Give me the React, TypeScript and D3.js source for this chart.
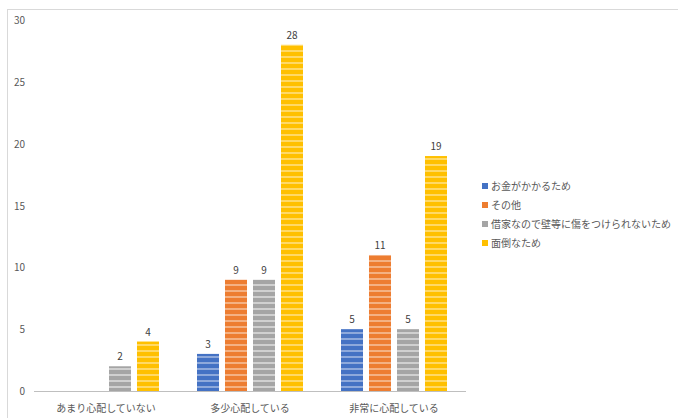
import React, { useEffect, useRef } from 'react';
import * as d3 from 'd3';

const CATEGORIES = ['あまり心配していない', '多少心配している', '非常に心配している'];
const SERIES = ['お金がかかるため', 'その他', '借家なので壁等に傷をつけられないため', '面倒なため'];
const COLORS = ['#4472C4', '#ED7D31', '#A5A5A5', '#FFC000'];
const LIGHT = ['#8EA9DB', '#F4B183', '#D0D0D0', '#FFD966'];
// values[series][category]; null = no bar
const VALUES: (number | null)[][] = [
  [null, 3, 5],
  [null, 9, 11],
  [2, 9, 5],
  [4, 28, 19],
];
const Y_TICKS = [0, 5, 10, 15, 20, 25, 30];

const W = 678;
const H = 418;
const FONT = '"Noto Sans CJK JP", "Noto Sans", sans-serif';

const App: React.FC = () => {
  const svgRef = useRef<SVGSVGElement>(null);

  useEffect(() => {
    if (!svgRef.current) return;
    const svg = d3.select(svgRef.current);
    svg.selectAll('*').remove();

    svg.append('rect').attr('width', W).attr('height', H).attr('fill', '#ffffff');
    svg
      .append('rect')
      .attr('x', 7.5)
      .attr('y', 9.5)
      .attr('width', W)
      .attr('height', H)
      .attr('fill', 'none')
      .attr('stroke', '#d9d9d9');

    const defs = svg.append('defs');
    COLORS.forEach((c, i) => {
      const p = defs
        .append('pattern')
        .attr('id', `stripe${i}`)
        .attr('patternUnits', 'userSpaceOnUse')
        .attr('width', 8)
        .attr('height', 6);
      p.append('rect').attr('width', 8).attr('height', 6).attr('fill', c);
      p.append('rect').attr('y', 2).attr('width', 8).attr('height', 2).attr('fill', LIGHT[i]);
    });

    const y = d3.scaleLinear().domain([0, 30]).range([391, 20]);
    const x0 = d3.scaleBand().domain(CATEGORIES).range([34, 466]);
    const inner = 106;
    const x1 = d3.scaleBand().domain(SERIES).range([0, inner]).paddingInner(0.214);
    const offset = (x0.bandwidth() - inner) / 2;

    Y_TICKS.forEach((t) => {
      svg
        .append('text')
        .attr('x', 25)
        .attr('y', y(t) + 4)
        .attr('text-anchor', 'end')
        .attr('font-family', FONT)
        .attr('font-size', 10)
        .attr('fill', '#595959')
        .text(t);
    });

    SERIES.forEach((s, si) => {
      CATEGORIES.forEach((c, ci) => {
        const v = VALUES[si][ci];
        if (v == null) return;
        const bx = (x0(c) as number) + offset + (x1(s) as number);
        svg
          .append('rect')
          .attr('x', bx)
          .attr('y', y(v))
          .attr('width', x1.bandwidth())
          .attr('height', y(0) - y(v))
          .attr('fill', `url(#stripe${si})`);
        svg
          .append('text')
          .attr('x', bx + x1.bandwidth() / 2)
          .attr('y', y(v) - 6)
          .attr('text-anchor', 'middle')
          .attr('font-family', FONT)
          .attr('font-size', 10)
          .attr('fill', '#404040')
          .text(v);
      });
    });

    svg
      .append('line')
      .attr('x1', 34)
      .attr('x2', 466)
      .attr('y1', y(0) + 0.5)
      .attr('y2', y(0) + 0.5)
      .attr('stroke', '#bfbfbf');

    CATEGORIES.forEach((c) => {
      svg
        .append('text')
        .attr('x', (x0(c) as number) + x0.bandwidth() / 2)
        .attr('y', 412)
        .attr('text-anchor', 'middle')
        .attr('font-family', FONT)
        .attr('font-size', 10)
        .attr('fill', '#595959')
        .text(c);
    });

    SERIES.forEach((s, i) => {
      const ly = 186 + i * 19;
      svg
        .append('rect')
        .attr('x', 482)
        .attr('y', ly - 3)
        .attr('width', 6)
        .attr('height', 6)
        .attr('fill', COLORS[i]);
      svg
        .append('text')
        .attr('x', 491)
        .attr('y', ly + 4)
        .attr('font-family', FONT)
        .attr('font-size', 10)
        .attr('fill', '#595959')
        .text(s);
    });
  }, []);

  return <svg ref={svgRef} width={W} height={H} style={{ display: 'block', position: 'absolute', left: 0, top: 0 }} />;
};

export default App;
